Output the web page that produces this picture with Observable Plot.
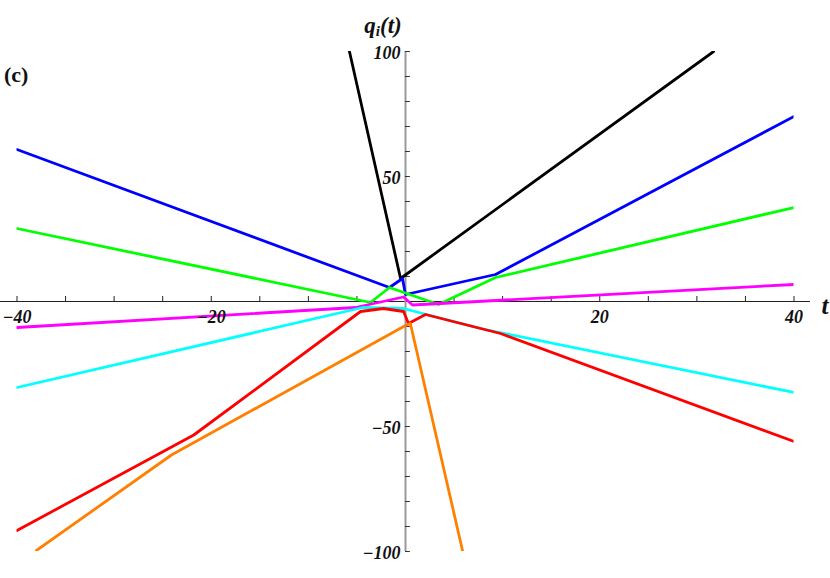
<!DOCTYPE html>
<html><head><meta charset="utf-8">
<script src="https://cdn.jsdelivr.net/npm/d3@7"></script>
<script src="https://cdn.jsdelivr.net/npm/@observablehq/plot@0.6"></script>
<style>body{margin:0;background:#fff} #chart{width:830px;height:578px}</style>
</head><body><div id="chart"></div>
<script>
// Data: [t, q] breakpoints of each piecewise-linear curve
const blackPts   = [[-5.77,100],[-0.51,9.2],[31.72,100]];
const bluePts    = [[-40,60.8],[-1.65,5.6],[-0.31,9.2],[0,2.8],[9.27,10.8],[40,74]];
const greenPts   = [[-40,29.2],[-3.6,-0.4],[-1.65,5.6],[3.4,-1.2],[9.27,9.6],[40,37.6]];
const magentaPts = [[-40,-10.4],[-5.15,-2.4],[-0.2,1.8],[0.72,-1.4],[40,6.8]];
const cyanPts    = [[-40,-34.4],[-4.4,-2.4],[-0.2,-2.8],[7.7,-10.8],[40,-36.4]];
const redPts     = [[-40,-91.6],[-21.8,-53.4],[-4.63,-4],[-2.26,-2.8],[-0.2,-4],[0.31,-8.8],[2.06,-5.2],[9.78,-12.8],[40,-56]];
const orangePts  = [[-38,-99.6],[-24.1,-61.4],[0,-9.6],[0.5,-8.8],[5.87,-99.6]];

const xTicks  = [-40,-35,-30,-25,-20,-15,-10,-5,5,10,15,20,25,30,35,40];
const xLabels = [-40,-20,20,40];
const yTicks  = [-100,-90,-80,-70,-60,-50,-40,-30,-20,-10,10,20,30,40,50,60,70,80,90,100];
const yLabels = [-100,-50,50,100];

const seriesColors = {
  black: "#000000", blue: "#0000ff", green: "#00ff00", magenta: "#ff00ff",
  cyan: "#00ffff", red: "#ff0000", orange: "#ff8000"
};
const seriesPts = {
  black: blackPts, blue: bluePts, green: greenPts, magenta: magentaPts,
  cyan: cyanPts, red: redPts, orange: orangePts
};

const fmt = d => (d < 0 ? "\u2212" : "") + Math.abs(d);
const labelFont = {fontFamily: "Liberation Serif", fontWeight: "bold", fontStyle: "italic", fontSize: 18, fill: "#111"};

const lineMarks = Object.keys(seriesPts).map(k =>
  Plot.line(seriesPts[k], {x: d => d[0], y: d => d[1], stroke: seriesColors[k], strokeWidth: 2.8, clip: true})
);

const plot = Plot.plot({
  width: 830, height: 578,
  marginLeft: 16.5, marginRight: 36.5, marginTop: 51, marginBottom: 27,
  x: {domain: [-40, 40], axis: null},
  y: {domain: [-100, 100], axis: null},
  style: {background: "#ffffff"},
  marks: [
    Plot.ruleY([0], {x1: -41.7, x2: 41.7, stroke: "#222", strokeWidth: 1}),
    Plot.ruleX(xTicks, {x: d => d, y1: 0, y2: 2, stroke: "#222", strokeWidth: 1}),
    Plot.ruleX([0], {y1: -100, y2: 100, stroke: "#999", strokeWidth: 2}),
    Plot.ruleY(yTicks, {y: d => d, x1: 0, x2: 0.5, stroke: "#333", strokeWidth: 1}),
    ...lineMarks,
    Plot.text(xLabels, {x: d => d, y: () => 0, text: fmt, dy: 16, ...labelFont}),
    Plot.text(yLabels, {x: () => 0, y: d => d, text: fmt, dx: -5, dy: 2, textAnchor: "end", ...labelFont}),
    Plot.text(["t"], {x: () => 40, y: () => 0, text: d => d, dx: 31, dy: 4, ...labelFont, fontSize: 25}),
    Plot.text(["(c)"], {frameAnchor: "top-left", text: d => d, dx: -13, dy: 15, textAnchor: "start",
      fontFamily: "Liberation Serif", fontWeight: "bold", fontSize: 22, fill: "#111"})
  ]
});
document.getElementById("chart").append(plot);

// axis title q_i(t) with subscript
const sx = plot.scale("x"), sy = plot.scale("y");
const svg = d3.select(plot);
const title = svg.append("text")
  .attr("x", sx.apply(0) - 22).attr("y", sy.apply(100) - 18)
  .attr("font-family", "Liberation Serif").attr("font-weight", "bold")
  .attr("font-style", "italic").attr("font-size", 23).attr("fill", "#111");
title.append("tspan").text("q");
title.append("tspan").attr("dy", 3).attr("font-size", 15).text("i");
title.append("tspan").attr("dy", -3).text("(t)");
</script>
</body></html>
